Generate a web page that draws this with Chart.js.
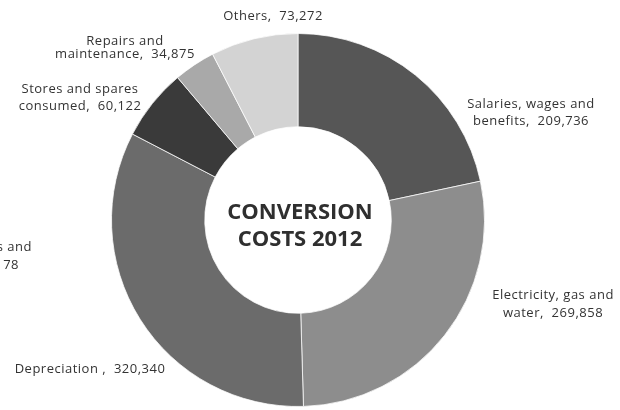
<!DOCTYPE html>
<html>
<head>
<meta charset="utf-8">
<script src="https://cdn.jsdelivr.net/npm/chart.js@4/dist/chart.umd.min.js"></script>
<style>
  html, body { margin: 0; padding: 0; background: #ffffff; }
  #wrap { width: 620px; height: 410px; position: relative; }
</style>
</head>
<body>
<div id="wrap"><canvas id="c" width="620" height="410"></canvas></div>
<script>
// Conversion cost components for 2012
const categories = [
  "Salaries, wages and\nbenefits",
  "Electricity, gas and\nwater",
  "Depreciation ",
  "Stores and spares\nconsumed",
  "Repairs and\nmaintenance",
  "Others"
];
const costs = [209736, 269858, 320340, 60122, 34875, 73272];
const centerTitle = ["CONVERSION", "COSTS 2012"];
// Partial label running off the left edge
const edgeFragment = ["s and", "78"];

const sliceColors = ["#565656", "#8d8d8d", "#6b6b6b", "#3a3a3a", "#a9a9a9", "#d3d3d3"];

// Label block placement relative to the doughnut centre: [dx, dy, lineHeight]
const labelPlacement = [
  [233, -107, 17],
  [255, 84, 18],
  [-208, 149, 17],
  [-218, -122, 17],
  [-173, -172, 13],
  [-25, -204, 17]
];

const fmt = v => v.toLocaleString("en-US");

const labelPlugin = {
  id: "sliceLabels",
  afterDraw(chart) {
    const ctx = chart.ctx;
    const arc = chart.getDatasetMeta(0).data[0];
    const cx = arc.x, cy = arc.y;
    ctx.save();
    ctx.fillStyle = "#333333";
    ctx.font = "13px 'Open Sans'";
    ctx.letterSpacing = "0.5px";
    ctx.textAlign = "center";
    ctx.textBaseline = "middle";
    categories.forEach((name, i) => {
      const lines = name.split("\n");
      lines[lines.length - 1] += ",  " + fmt(costs[i]);
      const [dx, dy, lh] = labelPlacement[i];
      const top = cy + dy - (lines.length - 1) * lh / 2;
      lines.forEach((t, k) => ctx.fillText(t, cx + dx, top + k * lh));
    });
    ctx.textAlign = "right";
    ctx.fillText(edgeFragment[0], cx - 266, cy + 27);
    ctx.fillText(edgeFragment[1], cx - 279, cy + 45);

    ctx.letterSpacing = "0px";
    ctx.fillStyle = "#2f2f2f";
    ctx.font = "bold 22px 'Open Sans'";
    ctx.textAlign = "center";
    ctx.fillText(centerTitle[0], cx + 2, cy - 7);
    ctx.fillText(centerTitle[1], cx + 2, cy + 20);
    ctx.restore();
  }
};

new Chart(document.getElementById("c"), {
  type: "doughnut",
  data: {
    labels: categories,
    datasets: [{
      data: costs,
      backgroundColor: sliceColors,
      borderColor: "rgba(255,255,255,0.75)",
      borderWidth: 1
    }]
  },
  options: {
    responsive: false,
    animation: false,
    cutout: "50%",
    layout: { padding: { left: 111, right: 135, top: 33, bottom: 3 } },
    plugins: {
      legend: { display: false },
      tooltip: { enabled: false }
    }
  },
  plugins: [labelPlugin]
});
</script>
</body>
</html>
